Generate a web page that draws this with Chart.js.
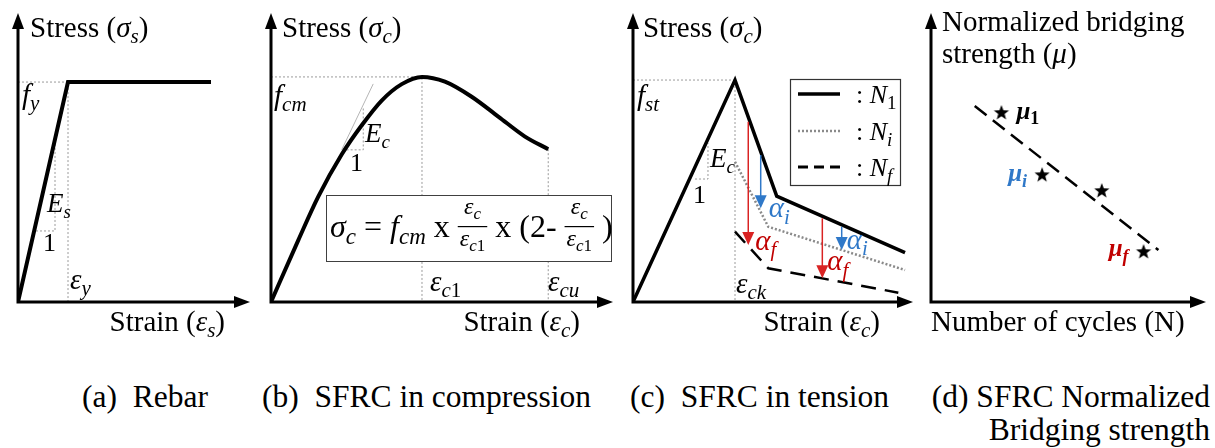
<!DOCTYPE html>
<html>
<head>
<meta charset="utf-8">
<script src="https://cdn.jsdelivr.net/npm/chart.js@4.4.1/dist/chart.umd.min.js"></script>
<style>
  body { margin: 0; background: #fff; width: 1215px; height: 448px; overflow: hidden; position: relative; }
  canvas { position: absolute; top: 0; }
  .cap { position: absolute; font-size: 31.5px; line-height: 33px; white-space: pre; color: #000; }
</style>
</head>
<body>
<canvas id="rebar" width="258" height="350" style="left:0px"></canvas>
<canvas id="comp" width="362" height="350" style="left:258px"></canvas>
<canvas id="tens" width="295" height="350" style="left:620px"></canvas>
<canvas id="bridge" width="300" height="350" style="left:915px"></canvas>
<div class="cap" style="left:82px;top:380px">(a)  Rebar</div>
<div class="cap" style="left:262px;top:380px">(b)  SFRC in compression</div>
<div class="cap" style="left:630px;top:380px">(c)  SFRC in tension</div>
<div class="cap" style="right:5px;top:380px;text-align:right">(d) SFRC Normalized
Bridging strength</div>
<script>
// (a) rebar: strain in units of eps_y, stress in units of f_y
const rebarStrain = [0, 1, 3.86]
const rebarStress = [0, 1, 1]
const rebarSlopeX = [0.36, 0.74, 0.74]
const rebarSlopeY = [0.323, 0.323, 0.72]

// (b) compression: strain / eps_c1, stress / f_cm
const compStrain = [0, 0.181, 0.313, 0.468, 0.601, 0.733, 0.866, 1, 1.152, 1.329, 1.505, 1.682, 1.836]
const compStress = [0, 0.275, 0.468, 0.655, 0.785, 0.895, 0.968, 1, 0.979, 0.912, 0.824, 0.735, 0.679]
const compTangentX = [0.468, 0.677]
const compTangentY = [0.676, 0.969]
const compSlopeX = [0.501, 0.611, 0.611]
const compSlopeY = [0.676, 0.676, 0.868]

// (c) tension: strain / eps_ck, stress / f_st
const n1Strain = [0, 1, 1.409, 2.667]
const n1Stress = [0, 1, 0.477, 0.222]
const niStrain = [1, 1.326, 2.667]
const niStress = [0.632, 0.339, 0.144]
const nfStrain = [1, 1.326, 2.601]
const nfStress = [0.317, 0.152, 0.042]
const tensSlopeX = [0.608, 0.735, 0.735]
const tensSlopeY = [0.554, 0.554, 0.716]
const alphaFStrain = [1.130, 1.856]
const alphaFFrom = [0.812, 0.377]
const alphaFTo = [0.257, 0.107]
const alphaIStrain = [1.252, 2.046]
const alphaIFrom = [0.662, 0.339]
const alphaITo = [0.422, 0.234]

// (d) normalized bridging strength vs number of cycles
const cycles = [0.256, 0.404, 0.621, 0.773]
const mu = [0.654, 0.439, 0.384, 0.173]
const trendCycles = [0.159, 0.827]
const trendMu = [0.678, 0.180]

// pick the first serif face that is really installed
function pickFont(list) {
  const g = document.createElement('canvas').getContext('2d')
  const probe = 'mmmmmmmmmmlliWW@#0'
  const w = f => { g.font = '72px ' + f; return g.measureText(probe).width }
  for (const f of list) {
    if (w(`'${f}', monospace`) !== w('monospace') || w(`'${f}', sans-serif`) !== w('sans-serif')) return `'${f}'`
  }
  return 'serif'
}
const FAM = pickFont(['Liberation Serif', 'Tinos', 'Times New Roman', 'Nimbus Roman', 'Nimbus Roman No9 L', 'DejaVu Serif', 'Noto Serif']) + ', serif'
document.querySelectorAll('.cap').forEach(d => { d.style.fontFamily = FAM })

const RED = '#c00000'
const RED_ARROW = '#d92323'
const BLUE = '#2f78c8'

// draws a run of text pieces: r = roman, i = italic, si = italic subscript, sr = roman subscript, b = bold
function mtext(ctx, x, y, parts, opt = {}) {
  const size = opt.size || 29
  const fontOf = k => {
    const s = k[0] === 's' ? Math.round(size * 0.72) : size
    return (k.includes('i') ? 'italic ' : '') + (k.includes('b') ? 'bold ' : '') + s + 'px ' + FAM
  }
  let w = 0
  parts.forEach(([t, k]) => { ctx.font = fontOf(k); w += ctx.measureText(t).width })
  if (opt.align === 'right') x -= w
  if (opt.align === 'center') x -= w / 2
  ctx.fillStyle = opt.color || '#000'
  ctx.textAlign = 'left'
  ctx.textBaseline = 'alphabetic'
  parts.forEach(([t, k]) => {
    ctx.font = fontOf(k)
    ctx.fillText(t, x, y + (k[0] === 's' ? size * 0.22 : 0))
    x += ctx.measureText(t).width
  })
  return w
}

function axes(chart) {
  const {ctx, chartArea: a} = chart
  ctx.save()
  ctx.strokeStyle = '#000'
  ctx.fillStyle = '#000'
  ctx.lineWidth = 3
  ctx.beginPath()
  ctx.moveTo(a.left, a.bottom + 1.5)
  ctx.lineTo(a.left, a.top + 12)
  ctx.moveTo(a.left - 1.5, a.bottom)
  ctx.lineTo(a.right - 12, a.bottom)
  ctx.stroke()
  ctx.beginPath()
  ctx.moveTo(a.left, a.top)
  ctx.lineTo(a.left - 6, a.top + 16)
  ctx.lineTo(a.left + 6, a.top + 16)
  ctx.fill()
  ctx.beginPath()
  ctx.moveTo(a.right, a.bottom)
  ctx.lineTo(a.right - 16, a.bottom - 6)
  ctx.lineTo(a.right - 16, a.bottom + 6)
  ctx.fill()
  ctx.restore()
}

function arrowDown(ctx, x, y1, y2, color) {
  ctx.strokeStyle = color
  ctx.fillStyle = color
  ctx.lineWidth = 1.5
  ctx.setLineDash([])
  ctx.beginPath()
  ctx.moveTo(x, y1)
  ctx.lineTo(x, y2 - 12)
  ctx.stroke()
  ctx.beginPath()
  ctx.moveTo(x - 6, y2 - 13)
  ctx.lineTo(x + 6, y2 - 13)
  ctx.lineTo(x, y2)
  ctx.closePath()
  ctx.fill()
}

function starImage(r) {
  const c = document.createElement('canvas')
  c.width = c.height = 2 * r + 2
  const g = c.getContext('2d')
  g.beginPath()
  for (let i = 0; i < 10; i++) {
    const ang = -Math.PI / 2 + i * Math.PI / 5
    const rr = i % 2 ? r * 0.42 : r
    g.lineTo(r + 1 + rr * Math.cos(ang), r + 1 + rr * Math.sin(ang))
  }
  g.closePath()
  g.fillStyle = '#000'
  g.fill()
  return c
}

const pts = (xs, ys) => xs.map((x, i) => ({x, y: ys[i]}))
const ln = (xs, ys, style) => ({data: pts(xs, ys), showLine: true, pointRadius: 0, borderColor: '#000', borderWidth: 3, fill: false, ...style})
const dotted = (xs, ys) => ln(xs, ys, {borderColor: '#9a9a9a', borderWidth: 1, borderDash: [2, 2]})

function panel(id, pad, xmax, ymax, datasets, draw) {
  return new Chart(id, {
    type: 'scatter',
    data: {datasets},
    options: {
      responsive: false,
      animation: false,
      events: [],
      layout: {padding: pad},
      plugins: {legend: {display: false}, tooltip: {enabled: false}},
      scales: {
        x: {type: 'linear', display: false, min: 0, max: xmax},
        y: {type: 'linear', display: false, min: 0, max: ymax},
      },
    },
    plugins: [{
      id: id + 'Deco',
      afterDatasetsDraw(chart) {
        const ctx = chart.ctx
        ctx.save()
        draw(chart, ctx, v => chart.scales.x.getPixelForValue(v), v => chart.scales.y.getPixelForValue(v))
        ctx.restore()
        axes(chart)
      },
    }],
  })
}

// (a) Rebar
panel('rebar', {left: 18, top: 13, right: 8, bottom: 48}, 4.64, 1.314, [
  ln(rebarStrain, rebarStress, {borderWidth: 4}),
  dotted([0, rebarStrain[1], rebarStrain[1]], [rebarStress[1], rebarStress[1], 0]),
  dotted(rebarSlopeX, rebarSlopeY),
], (c, ctx, px, py) => {
  mtext(ctx, 30, 37, [['Stress (', 'r'], ['σ', 'i'], ['s', 'si'], [')', 'r']])
  mtext(ctx, 225, 331, [['Strain (', 'r'], ['ε', 'i'], ['s', 'si'], [')', 'r']], {align: 'right'})
  mtext(ctx, 22, 104, [['f', 'i'], ['y', 'si']])
  mtext(ctx, 47, 212, [['E', 'i'], ['s', 'si']], {size: 27})
  mtext(ctx, 43, 251, [['1', 'r']], {size: 26})
  mtext(ctx, 70, 289, [['ε', 'i'], ['y', 'si']])
})

// (b) SFRC in compression
const peak = compStress.indexOf(Math.max(...compStress))
const last = compStrain.length - 1
panel('comp', {left: 13, top: 13, right: 7, bottom: 48}, 2.265, 1.284, [
  ln(compStrain, compStress, {borderWidth: 4, cubicInterpolationMode: 'monotone'}),
  dotted([0, compStrain[peak], compStrain[peak]], [compStress[peak], compStress[peak], 0]),
  dotted([compStrain[last], compStrain[last]], [compStress[last], 0]),
  ln(compTangentX, compTangentY, {borderColor: '#b5b5b5', borderWidth: 1}),
  dotted(compSlopeX, compSlopeY),
], (c, ctx, px, py) => {
  mtext(ctx, 24, 37, [['Stress (', 'r'], ['σ', 'i'], ['c', 'si'], [')', 'r']])
  mtext(ctx, 322, 331, [['Strain (', 'r'], ['ε', 'i'], ['c', 'si'], [')', 'r']], {align: 'right'})
  mtext(ctx, 16, 105, [['f', 'i'], ['cm', 'si']])
  mtext(ctx, 107, 142, [['E', 'i'], ['c', 'si']], {size: 27})
  mtext(ctx, 92, 171, [['1', 'r']], {size: 26})
  mtext(ctx, 172, 291, [['ε', 'i'], ['c', 'si'], ['1', 'sr']])
  mtext(ctx, 290, 291, [['ε', 'i'], ['cu', 'si']])
  // formula box
  ctx.fillStyle = '#fff'
  ctx.fillRect(68, 195, 285, 66)
  ctx.strokeStyle = '#404040'
  ctx.lineWidth = 1
  ctx.strokeRect(68.5, 195.5, 285, 66)
  const frac = (x, yb) => {
    const s = 24
    const num = [['ε', 'i'], ['c', 'si']]
    const den = [['ε', 'i'], ['c', 'si'], ['1', 'sr']]
    const wd = mtext(ctx, -999, 0, den, {size: s, color: 'rgba(0,0,0,0)'})
    const w = wd + 4
    mtext(ctx, x + w / 2, yb - 23, num, {size: s, align: 'center'})
    mtext(ctx, x + w / 2, yb + 9, den, {size: s, align: 'center'})
    ctx.fillStyle = '#000'
    ctx.fillRect(x, yb - 11, w, 1.2)
    return w
  }
  const yb = 237
  let x = 72
  x += mtext(ctx, x, yb, [['σ', 'i'], ['c', 'si']], {size: 32})
  x += mtext(ctx, x, yb, [[' = ', 'r']], {size: 32})
  x += mtext(ctx, x, yb, [['f', 'i'], ['cm', 'si']], {size: 32})
  x += mtext(ctx, x, yb, [[' x ', 'r']], {size: 32})
  x += frac(x, yb)
  x += mtext(ctx, x, yb, [[' x (2- ', 'r']], {size: 32})
  x += frac(x, yb)
  mtext(ctx, x, yb, [[' )', 'r']], {size: 32})
})

// (c) SFRC in tension
const tPeak = n1Stress.indexOf(Math.max(...n1Stress))
panel('tens', {left: 13, top: 13, right: 2, bottom: 48}, 2.745, 1.302, [
  ln(n1Strain, n1Stress, {borderWidth: 3.5}),
  ln(niStrain, niStress, {borderColor: '#8a8a8a', borderWidth: 2.5, borderDash: [2, 2]}),
  ln(nfStrain, nfStress, {borderWidth: 2.5, borderDash: [15, 9]}),
  dotted([0, n1Strain[tPeak], n1Strain[tPeak]], [n1Stress[tPeak], n1Stress[tPeak], 0]),
  dotted(tensSlopeX, tensSlopeY),
], (c, ctx, px, py) => {
  mtext(ctx, 23, 37, [['Stress (', 'r'], ['σ', 'i'], ['c', 'si'], [')', 'r']])
  mtext(ctx, 260, 331, [['Strain (', 'r'], ['ε', 'i'], ['c', 'si'], [')', 'r']], {align: 'right'})
  mtext(ctx, 17, 105, [['f', 'i'], ['st', 'si']])
  mtext(ctx, 90, 167, [['E', 'i'], ['c', 'si']], {size: 27})
  mtext(ctx, 73, 203, [['1', 'r']], {size: 26})
  mtext(ctx, 116, 293, [['ε', 'i'], ['ck', 'si']])
  alphaFStrain.forEach((s, i) => arrowDown(ctx, px(s), py(alphaFFrom[i]), py(alphaFTo[i]), RED_ARROW))
  alphaIStrain.forEach((s, i) => arrowDown(ctx, px(s), py(alphaIFrom[i]), py(alphaITo[i]), BLUE))
  mtext(ctx, px(alphaIStrain[0]) + 8, py(alphaITo[0]) + 9, [['α', 'i'], ['i', 'si']], {color: BLUE})
  mtext(ctx, px(alphaFStrain[0]) + 7, py(alphaFTo[0]) + 5, [['α', 'i'], ['f', 'si']], {color: RED})
  mtext(ctx, px(alphaIStrain[1]) + 5, py(alphaITo[1]) - 1, [['α', 'i'], ['i', 'si']], {color: BLUE})
  mtext(ctx, px(alphaFStrain[1]) + 5, py(alphaFTo[1]) - 8, [['α', 'i'], ['f', 'si']], {color: RED})
  // legend
  ctx.fillStyle = '#fff'
  ctx.fillRect(170, 79, 110, 106)
  ctx.strokeStyle = '#333'
  ctx.lineWidth = 1.2
  ctx.strokeRect(170.5, 79.5, 110, 106)
  const rows = [
    {y: 94, w: 3.5, c: '#000', d: [], s: [['1', 'sr']]},
    {y: 131, w: 2.5, c: '#8a8a8a', d: [2, 2], s: [['i', 'si']]},
    {y: 167, w: 3, c: '#000', d: [10, 6], s: [['f', 'si']]},
  ]
  rows.forEach(r => {
    ctx.strokeStyle = r.c
    ctx.lineWidth = r.w
    ctx.setLineDash(r.d)
    ctx.beginPath()
    ctx.moveTo(178, r.y)
    ctx.lineTo(220, r.y)
    ctx.stroke()
    ctx.setLineDash([])
    mtext(ctx, 236, r.y + 9, [[': ', 'r'], ['N', 'i'], ...r.s], {size: 26})
  })
})

// (d) SFRC normalized bridging strength
const star = starImage(8)
panel('bridge', {left: 16, top: 13, right: 7, bottom: 48}, 1, 1, [
  {data: pts(cycles, mu), pointStyle: star, pointRadius: 8, showLine: false},
  ln(trendCycles, trendMu, {borderWidth: 2.5, borderDash: [15, 8]}),
], (c, ctx, px, py) => {
  mtext(ctx, 27, 31, [['Normalized bridging', 'r']])
  mtext(ctx, 27, 63, [['strength (', 'r'], ['μ', 'i'], [')', 'r']])
  mtext(ctx, 16, 331, [['Number of cycles (N)', 'r']])
  mtext(ctx, px(cycles[0]) + 15, py(mu[0]) + 6, [['μ', 'bi'], ['1', 'sb']], {size: 25})
  mtext(ctx, px(cycles[1]) - 15, py(mu[1]) + 6, [['μ', 'bi'], ['i', 'sbi']], {size: 25, align: 'right', color: BLUE})
  mtext(ctx, px(cycles[3]) - 15, py(mu[3]) + 4, [['μ', 'bi'], ['f', 'sbi']], {size: 25, align: 'right', color: RED})
})
</script>
</body>
</html>
